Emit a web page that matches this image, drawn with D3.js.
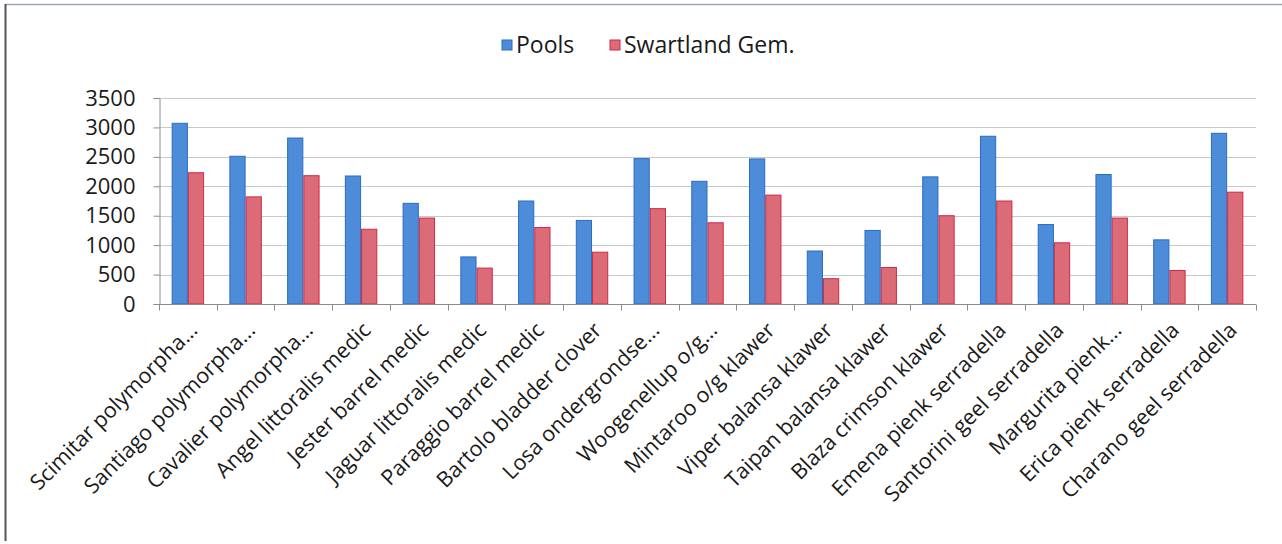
<!DOCTYPE html>
<html>
<head>
<meta charset="utf-8">
<script src="https://cdn.jsdelivr.net/npm/d3@7"></script>
<style>
  body { margin: 0; background: #fff; }
  svg { display: block; }
</style>
</head>
<body>
<svg id="chart" width="1282" height="544"></svg>
<script>
// cultivar names as they appear on the axis (Excel truncated some)
const categories = [
    "Scimitar polymorpha...", "Santiago polymorpha...", "Cavalier polymorpha...",
    "Angel littoralis medic", "Jester barrel  medic", "Jaguar littoralis medic",
    "Paraggio barrel medic", "Bartolo bladder clover", "Losa ondergrondse...",
    "Woogenellup o/g...", "Mintaroo o/g klawer", "Viper balansa klawer",
    "Taipan balansa klawer", "Blaza crimson klawer", "Emena pienk serradella",
    "Santorini geel serradella", "Margurita pienk...", "Erica pienk serradella",
    "Charano geel serradella"
];
const pools = [3070, 2510, 2820, 2175, 1710, 800, 1750, 1420, 2470, 2085, 2465, 900, 1250, 2160, 2850, 1350, 2200, 1090, 2900];
const swartland = [2230, 1820, 2180, 1270, 1460, 610, 1300, 880, 1620, 1380, 1850, 430, 620, 1500, 1750, 1040, 1460, 570, 1900];
const seriesNames = ["Pools", "Swartland Gem."];
const yTicks = [0, 500, 1000, 1500, 2000, 2500, 3000, 3500];

const fills = ["#4c8cd9", "#db6b77"];
const edges = ["#2c6cc0", "#cf2a45"];

const svg = d3.select("#chart");
const font = "'Open Sans', sans-serif";

const plot = { left: 159, right: 1256, top: 98, bottom: 304 };

// frame of the chart object
svg.append("line").attr("x1", 5).attr("x2", 1282).attr("y1", 4.5).attr("y2", 4.5)
    .attr("stroke", "#9aa6b6").attr("stroke-width", 1.5);
svg.append("line").attr("x1", 5.5).attr("x2", 5.5).attr("y1", 4).attr("y2", 541)
    .attr("stroke", "#555").attr("stroke-width", 2);

const x = d3.scaleBand().domain(categories).range([plot.left, plot.right]);
const xs = d3.scaleBand().domain([0, 1]).range([0, x.bandwidth()]).paddingOuter(0.78).paddingInner(0);
const y = d3.scaleLinear().domain([0, 3500]).range([plot.bottom, plot.top]);

// gridlines
svg.append("g")
    .selectAll("line")
    .data(yTicks.slice(1))
    .join("line")
    .attr("x1", plot.left).attr("x2", plot.right)
    .attr("y1", d => Math.round(y(d)) + 0.5).attr("y2", d => Math.round(y(d)) + 0.5)
    .attr("stroke", "#c9c9c9");

// y axis
const yAxis = svg.append("g")
    .attr("transform", `translate(${plot.left + 0.5},0)`)
    .call(d3.axisLeft(y).tickValues(yTicks).tickFormat(d3.format("d")).tickSize(6).tickPadding(18));
yAxis.select(".domain").attr("stroke", "#8c8c8c");
yAxis.selectAll(".tick line").attr("stroke", "#8c8c8c");
yAxis.selectAll("text")
    .attr("font-family", font).attr("font-size", 22).attr("fill", "#1a1a1a");

// bars
const groups = svg.append("g")
    .selectAll("g")
    .data(categories)
    .join("g")
    .attr("transform", d => `translate(${x(d)},0)`);

groups.selectAll("rect")
    .data((d, i) => [pools[i], swartland[i]])
    .join("rect")
    .attr("x", (d, j) => xs(j) + 0.5)
    .attr("width", xs.bandwidth() - 1)
    .attr("y", d => y(d))
    .attr("height", d => y(0) - y(d))
    .attr("fill", (d, j) => fills[j])
    .attr("stroke", (d, j) => edges[j])
    .attr("stroke-width", 1);

// x axis
const xAxis = svg.append("g")
    .attr("transform", `translate(0,${plot.bottom + 0.5})`);
xAxis.append("line").attr("x1", plot.left).attr("x2", plot.right)
    .attr("stroke", "#8c8c8c");
xAxis.selectAll(".tk")
    .data(d3.range(categories.length + 1))
    .join("line")
    .attr("class", "tk")
    .attr("x1", i => Math.round(plot.left + i * x.step()) + 0.5)
    .attr("x2", i => Math.round(plot.left + i * x.step()) + 0.5)
    .attr("y1", 0).attr("y2", 6)
    .attr("stroke", "#8c8c8c");

xAxis.selectAll("text")
    .data(categories)
    .join("text")
    .attr("transform", d => `translate(${x(d) + x.bandwidth() / 2 + 11},${27}) rotate(-45)`)
    .attr("text-anchor", "end")
    .attr("font-family", font)
    .attr("font-size", 21.5)
    .attr("fill", "#1a1a1a")
    .text(d => d);

// legend
const legend = svg.append("g").attr("transform", "translate(502,45)");
const legendX = [0, 108];
const item = legend.selectAll("g")
    .data(seriesNames)
    .join("g")
    .attr("transform", (d, i) => `translate(${legendX[i]},0)`);
item.append("rect")
    .attr("x", 0).attr("y", -5).attr("width", 10).attr("height", 10)
    .attr("fill", (d, i) => fills[i])
    .attr("stroke", (d, i) => edges[i]);
item.append("text")
    .attr("x", 14).attr("y", 0).attr("dy", "0.35em")
    .attr("font-family", font).attr("font-size", 23)
    .attr("fill", "#1a1a1a")
    .text(d => d);
</script>
</body>
</html>
